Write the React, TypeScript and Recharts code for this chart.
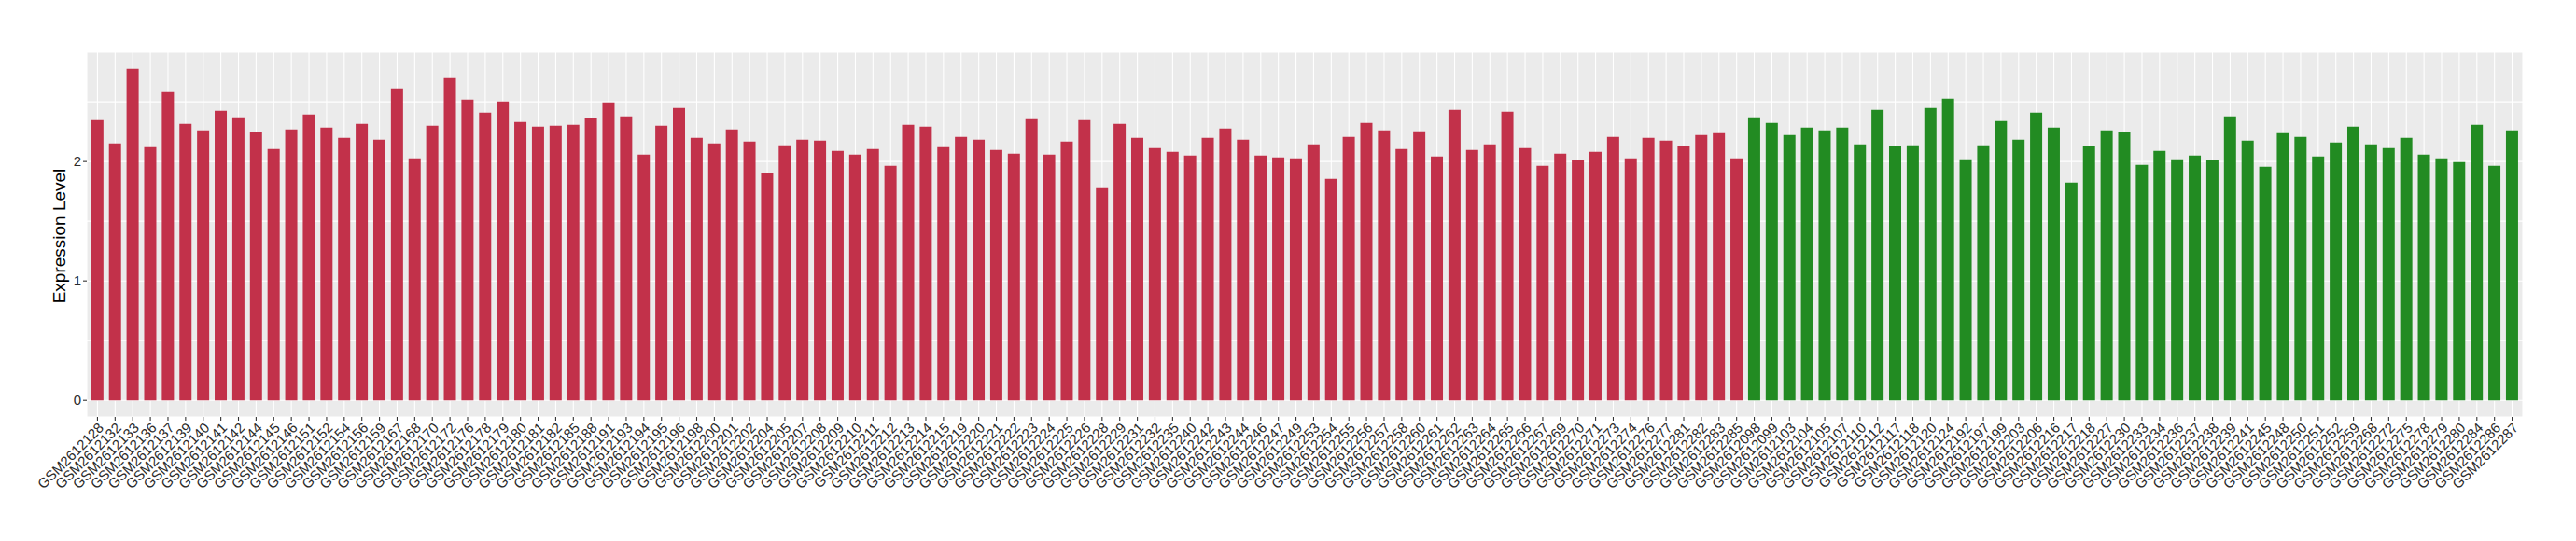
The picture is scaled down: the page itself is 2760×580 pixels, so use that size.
import { BarChart, Bar, XAxis, YAxis, CartesianGrid, Cell, Label } from 'recharts';

document.body.style.margin = '0';

const redSamples = [
  'GSM2612128', 'GSM2612132', 'GSM2612133', 'GSM2612136', 'GSM2612137', 'GSM2612139', 'GSM2612140', 'GSM2612141',
  'GSM2612142', 'GSM2612144', 'GSM2612145', 'GSM2612146', 'GSM2612151', 'GSM2612152', 'GSM2612154', 'GSM2612156',
  'GSM2612159', 'GSM2612167', 'GSM2612168', 'GSM2612170', 'GSM2612172', 'GSM2612176', 'GSM2612178', 'GSM2612179',
  'GSM2612180', 'GSM2612181', 'GSM2612182', 'GSM2612185', 'GSM2612188', 'GSM2612191', 'GSM2612193', 'GSM2612194',
  'GSM2612195', 'GSM2612196', 'GSM2612198', 'GSM2612200', 'GSM2612201', 'GSM2612202', 'GSM2612204', 'GSM2612205',
  'GSM2612207', 'GSM2612208', 'GSM2612209', 'GSM2612210', 'GSM2612211', 'GSM2612212', 'GSM2612213', 'GSM2612214',
  'GSM2612215', 'GSM2612219', 'GSM2612220', 'GSM2612221', 'GSM2612222', 'GSM2612223', 'GSM2612224', 'GSM2612225',
  'GSM2612226', 'GSM2612228', 'GSM2612229', 'GSM2612231', 'GSM2612232', 'GSM2612235', 'GSM2612240', 'GSM2612242',
  'GSM2612243', 'GSM2612244', 'GSM2612246', 'GSM2612247', 'GSM2612249', 'GSM2612253', 'GSM2612254', 'GSM2612255',
  'GSM2612256', 'GSM2612257', 'GSM2612258', 'GSM2612260', 'GSM2612261', 'GSM2612262', 'GSM2612263', 'GSM2612264',
  'GSM2612265', 'GSM2612266', 'GSM2612267', 'GSM2612269', 'GSM2612270', 'GSM2612271', 'GSM2612273', 'GSM2612274',
  'GSM2612276', 'GSM2612277', 'GSM2612281', 'GSM2612282', 'GSM2612283', 'GSM2612285',
];

const redValues = [
  2.346, 2.151, 2.776, 2.120, 2.581, 2.315, 2.260, 2.424, 2.370, 2.245, 2.104, 2.268, 2.393, 2.284, 2.198, 2.315,
  2.182, 2.612, 2.026, 2.299, 2.698, 2.518, 2.409, 2.503, 2.331, 2.292, 2.299, 2.307, 2.362, 2.495, 2.378, 2.057,
  2.299, 2.448, 2.198, 2.151, 2.268, 2.167, 1.901, 2.135, 2.182, 2.174, 2.089, 2.057, 2.104, 1.964, 2.307, 2.292,
  2.120, 2.206, 2.182, 2.096, 2.065, 2.354, 2.057, 2.167, 2.346, 1.776, 2.315, 2.198, 2.112, 2.081, 2.049, 2.198,
  2.276, 2.182, 2.049, 2.034, 2.026, 2.143, 1.854, 2.206, 2.323, 2.260, 2.104, 2.253, 2.042, 2.432, 2.096, 2.143,
  2.417, 2.112, 1.964, 2.065, 2.010, 2.081, 2.206, 2.026, 2.198, 2.174, 2.128, 2.221, 2.237, 2.026,
];

const greenSamples = [
  'GSM2612098', 'GSM2612099', 'GSM2612103', 'GSM2612104', 'GSM2612105', 'GSM2612107', 'GSM2612110', 'GSM2612112',
  'GSM2612117', 'GSM2612118', 'GSM2612120', 'GSM2612124', 'GSM2612192', 'GSM2612197', 'GSM2612199', 'GSM2612203',
  'GSM2612206', 'GSM2612216', 'GSM2612217', 'GSM2612218', 'GSM2612227', 'GSM2612230', 'GSM2612233', 'GSM2612234',
  'GSM2612236', 'GSM2612237', 'GSM2612238', 'GSM2612239', 'GSM2612241', 'GSM2612245', 'GSM2612248', 'GSM2612250',
  'GSM2612251', 'GSM2612252', 'GSM2612259', 'GSM2612268', 'GSM2612272', 'GSM2612275', 'GSM2612278', 'GSM2612279',
  'GSM2612280', 'GSM2612284', 'GSM2612286', 'GSM2612287',
];

const greenValues = [
  2.370, 2.323, 2.221, 2.284, 2.260, 2.284, 2.143, 2.432, 2.128, 2.135, 2.448, 2.526, 2.018, 2.135, 2.339, 2.182,
  2.409, 2.284, 1.823, 2.128, 2.260, 2.245, 1.971, 2.089, 2.018, 2.049, 2.010, 2.378, 2.174, 1.956, 2.237, 2.206,
  2.042, 2.159, 2.292, 2.143, 2.112, 2.198, 2.057, 2.026, 1.995, 2.307, 1.964, 2.260,
];

const yTicks = [0, 0.5, 1, 1.5, 2, 2.5];

const RED = '#C2314A';
const GREEN = '#228B22';

const data = [
  ...redSamples.map((s, i) => ({ sample: s, value: redValues[i], color: RED })),
  ...greenSamples.map((s, i) => ({ sample: s, value: greenValues[i], color: GREEN })),
];

const FONT = '"Liberation Sans", Arial, Helvetica, sans-serif';
const TEXT = '#2B2B2B';

const XTick = (props: any) => {
  const { x, y, payload } = props;
  const a = 7.6;
  const px = x + a;
  const py = y + a;
  return (
    <text
      x={px}
      y={py}
      transform={`rotate(-45 ${px} ${py})`}
      textAnchor="end"
      fontSize={15}
      fontFamily={FONT}
      fill={TEXT}
    >
      {payload.value}
    </text>
  );
};

const YTick = (props: any) => {
  const { x, y, payload } = props;
  const v = payload.value;
  if (v % 1 !== 0) return <g />;
  return (
    <g>
      <line x1={x + 2} x2={x + 6} y1={y} y2={y} stroke="#333333" strokeWidth={1.1} />
      <text x={x} y={y} dy={5} textAnchor="end" fontSize={15} fontFamily={FONT} fill={TEXT}>
        {v}
      </text>
    </g>
  );
};

export default function App() {
  return (
    <div style={{ width: 2760, height: 580, background: '#FFFFFF' }}>
      <BarChart
        width={2760}
        height={580}
        data={data}
        margin={{ top: 56, right: 57, bottom: 0, left: 0 }}
        barCategoryGap="15%"
      >
        <CartesianGrid fill="#EBEBEB" stroke="#FFFFFF" strokeWidth={1.1} />
        <XAxis
          dataKey="sample"
          interval={0}
          height={133}
          tickSize={4}
          tickMargin={1}
          axisLine={false}
          tickLine={{ stroke: '#333333', strokeWidth: 1.1 }}
          padding={{ left: 2, right: 2 }}
          tick={<XTick />}
        />
        <YAxis
          type="number"
          domain={[-0.139, 2.915]}
          ticks={yTicks}
          width={93}
          tickSize={4}
          tickMargin={2}
          axisLine={false}
          tickLine={false}
          tick={<YTick />}
        >
          <Label
            content={() => (
              <text
                x={70}
                y={253}
                transform="rotate(-90 70 253)"
                textAnchor="middle"
                fontSize={19}
                fontFamily={FONT}
                fill="#000000"
              >
                Expression Level
              </text>
            )}
          />
        </YAxis>
        <Bar dataKey="value" isAnimationActive={false}>
          {data.map((d, i) => (
            <Cell key={i} fill={d.color} />
          ))}
        </Bar>
      </BarChart>
    </div>
  );
}
